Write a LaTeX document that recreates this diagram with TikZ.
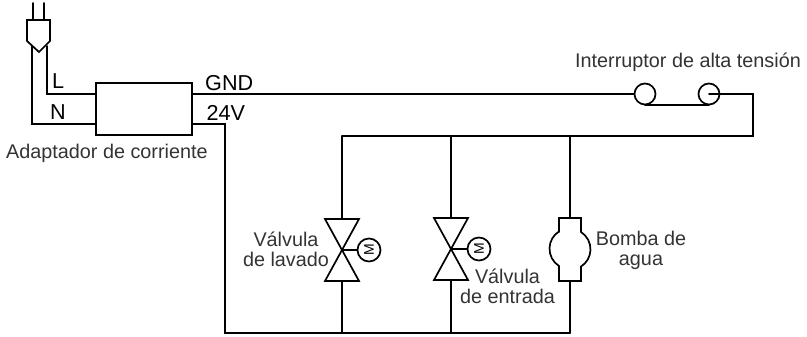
\documentclass[tikz,border=0pt]{standalone}
\usepackage{fontspec}
\setmainfont{Liberation Sans}
\definecolor{lab}{HTML}{333333}
\tikzset{
  wire/.style={line width=1.7pt,black,line cap=round,line join=miter},
  lbl/.style={inner sep=0pt,text=lab,font=\fontsize{19.8}{19.3}\selectfont,align=center},
  plbl/.style={inner sep=0pt,text=black,font=\fontsize{21.6}{22}\selectfont},
  motor/.style={circle,draw,line width=1.7pt,minimum size=23pt,inner sep=0pt,font=\fontsize{14}{14}\selectfont},
  contact/.style={circle,draw,line width=1.7pt,minimum size=21pt,inner sep=0pt},
  adapter/.style={rectangle,draw,line width=1.7pt,minimum width=96pt,minimum height=52pt,inner sep=0pt}
}
\begin{document}
\begin{tikzpicture}[x=1pt,y=-1pt]
\useasboundingbox (0,0) rectangle (807,337);
% plug
\coordinate (pa) at (33,3); \coordinate (pb) at (44,3);
\coordinate (pc) at (33,20); \coordinate (pd) at (44,20);
\draw[wire] (pa)--(pc); \draw[wire] (pb)--(pd);
\draw[wire] (27,20)--(50,20)--(50,41)--(39,52)--(27,41)--cycle;
% adapter
\node[adapter] (ad) at (144,109) {};
\coordinate (lin) at (47,46); \coordinate (nin) at (32,46);
\coordinate (gndo) at (192,94); \coordinate (vo) at (192,124);
\draw[wire] (lin) |- (96,94);
\draw[wire] (nin) |- (96,124);
% switch
\node[contact] (s1) at (645,94) {};
\node[contact] (s2) at (709,94) {};
\draw[wire] (gndo) -- (s1.west);
\draw[wire] (s1.south) -- (s2.south);
\coordinate (rr) at (753,94); \coordinate (rb) at (753,136);
\coordinate (rl) at (342,136);
\draw[wire] (s2.center) -- (rr) -- (rb) -- (rl);
% bottom rail
\coordinate (bl) at (225,333); \coordinate (b1) at (342,333);
\coordinate (b2) at (451,333); \coordinate (b3) at (570,333);
\coordinate (t2) at (451,136); \coordinate (t3) at (570,136);
\draw[wire] (vo) -- (225,124) -- (bl) -- (b3);
% valve 1
\coordinate (v1) at (342,250);
\draw[wire] (rl) -- (342,219); \draw[wire] (342,281) -- (b1);
\draw[wire] (325,219)--(359,219)--(325,281)--(359,281)--cycle;
\node[motor] (m1) at (369,250) {\rotatebox{90}{M}};
\draw[wire] (v1) -- (m1);
% valve 2
\coordinate (v2) at (451,249);
\draw[wire] (t2) -- (451,218); \draw[wire] (451,280) -- (b2);
\draw[wire] (434,218)--(468,218)--(434,280)--(468,280)--cycle;
\node[motor] (m2) at (479,249) {\rotatebox{90}{M}};
\draw[wire] (v2) -- (m2);
% pump
\draw[wire] (t3) -- (570,218); \draw[wire] (570,281) -- (b3);
\draw[wire] (559,232) -- (559,218) -- (581,218) -- (581,232)
  arc[start angle=-57.5,end angle=57.5,radius=20.5] -- (581,281) -- (559,281) -- (559,266)
  arc[start angle=122.5,end angle=237.5,radius=20.5];
% labels
\node[plbl,anchor=base west] (tl) at (52,89) {L};
\node[plbl,anchor=base west] (tn) at (50,120) {N};
\node[plbl,anchor=base west] (tg) at (205,91) {GND};
\node[plbl,anchor=base west] (tv) at (206.5,120.5) {24V};
\node[lbl,anchor=base west] (ta) at (6,158) {Adaptador de corriente};
\node[lbl,anchor=base west] (ti) at (575,68) {Interruptor de alta tensión};
\node[lbl,anchor=base] (tvl) at (286,266) {Válvula\\de lavado};
\node[lbl,anchor=base] (tve) at (507.5,303) {Válvula\\de entrada};
\node[lbl,anchor=base] (tb) at (641,265) {Bomba de\\agua};
\end{tikzpicture}
\end{document}
